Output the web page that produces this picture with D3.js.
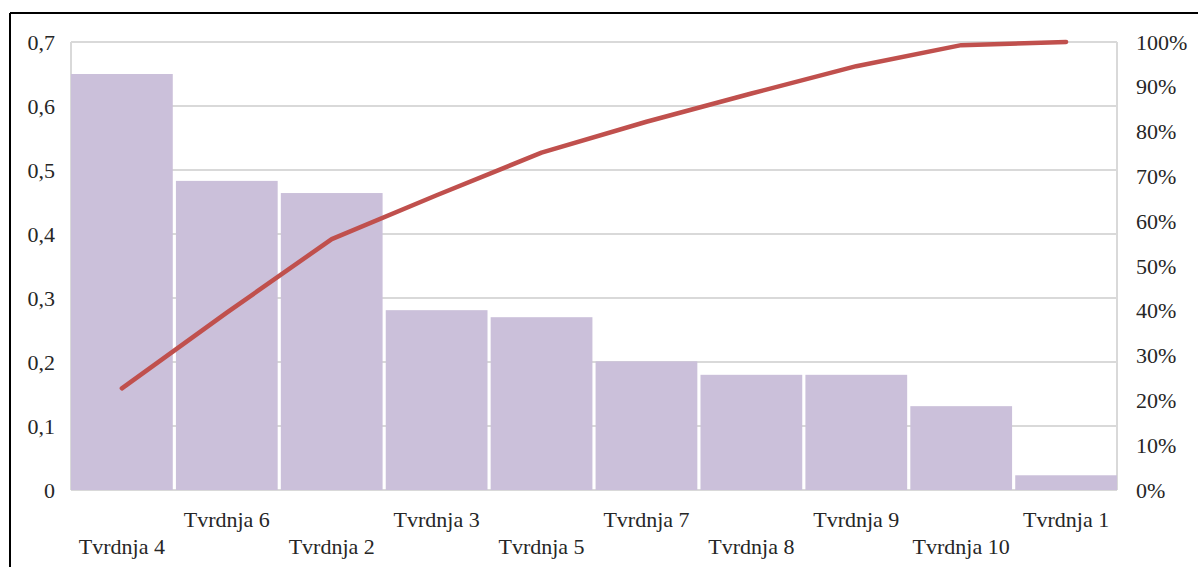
<!DOCTYPE html>
<html>
<head>
<meta charset="utf-8">
<script src="https://cdn.jsdelivr.net/npm/d3@7"></script>
<style>
  html, body { margin: 0; padding: 0; background: #fff; }
  svg { display: block; }
  text { font-family: "Liberation Serif", "Times New Roman", serif; fill: #262626; }
</style>
</head>
<body>
<svg id="chart" width="1198" height="567"></svg>
<script>
const categories = ["Tvrdnja 4", "Tvrdnja 6", "Tvrdnja 2", "Tvrdnja 3", "Tvrdnja 5",
                    "Tvrdnja 7", "Tvrdnja 8", "Tvrdnja 9", "Tvrdnja 10", "Tvrdnja 1"];
const barValues = [0.65, 0.483, 0.464, 0.281, 0.27, 0.201, 0.18, 0.18, 0.131, 0.023];
const cumulativePct = [0.227, 0.396, 0.56, 0.658, 0.753, 0.822, 0.885, 0.946, 0.993, 1.0];
const leftTicks = [0, 0.1, 0.2, 0.3, 0.4, 0.5, 0.6, 0.7];
const rightTicks = [0, 0.1, 0.2, 0.3, 0.4, 0.5, 0.6, 0.7, 0.8, 0.9, 1.0];

const svg = d3.select("#chart");
const W = 1198, H = 567;
const plot = { left: 71, right: 1117, top: 42, bottom: 490 };

svg.append("rect").attr("width", W).attr("height", H).attr("fill", "#fff");

// outer frame (top & left visible)
svg.append("line").attr("x1", 10).attr("x2", W).attr("y1", 13).attr("y2", 13)
  .attr("stroke", "#000").attr("stroke-width", 2);
svg.append("line").attr("x1", 10).attr("x2", 10).attr("y1", 13).attr("y2", H)
  .attr("stroke", "#000").attr("stroke-width", 2);

const x = d3.scaleBand().domain(categories).range([plot.left, plot.right]).paddingInner(0.03).paddingOuter(0);
const xc = d => x(d) + x.bandwidth() / 2;
const yL = d3.scaleLinear().domain([0, 0.7]).range([plot.bottom, plot.top]);
const yR = d3.scaleLinear().domain([0, 1]).range([plot.bottom, plot.top]);

// gridlines
const grid = svg.append("g");
grid.selectAll("line").data(leftTicks).join("line")
  .attr("x1", plot.left).attr("x2", plot.right)
  .attr("y1", d => yL(d)).attr("y2", d => yL(d))
  .attr("stroke", "#d9d9d9").attr("stroke-width", 2);
// plot area sides
svg.append("line").attr("x1", plot.left).attr("x2", plot.left).attr("y1", plot.top).attr("y2", plot.bottom)
  .attr("stroke", "#d9d9d9").attr("stroke-width", 2);
svg.append("line").attr("x1", plot.right).attr("x2", plot.right).attr("y1", plot.top).attr("y2", plot.bottom)
  .attr("stroke", "#d9d9d9").attr("stroke-width", 2);

// bars
svg.append("g").selectAll("rect").data(categories).join("rect")
  .attr("x", d => x(d))
  .attr("width", x.bandwidth())
  .attr("y", (d, i) => yL(barValues[i]))
  .attr("height", (d, i) => plot.bottom - yL(barValues[i]))
  .attr("fill", "#cbc0da");

// cumulative line
const line = d3.line().x((d, i) => xc(categories[i])).y(d => yR(d));
svg.append("path").datum(cumulativePct)
  .attr("d", line)
  .attr("fill", "none").attr("stroke", "#c0504d").attr("stroke-width", 4.5)
  .attr("stroke-linecap", "round").attr("stroke-linejoin", "round");

// left axis
const fmtL = d => d === 0 ? "0" : d3.format(".1f")(d).replace(".", ",");
const axL = d3.axisLeft(yL).tickValues(leftTicks).tickFormat(fmtL).tickSize(0).tickPadding(0);
const gL = svg.append("g").attr("transform", "translate(55,0)").call(axL);
gL.select(".domain").remove();
gL.selectAll("text").style("font-size", "22px").style("font-family", "Liberation Serif").attr("fill", "#262626");

// right axis
const axR = d3.axisRight(yR).tickValues(rightTicks).tickFormat(d3.format(".0%")).tickSize(0).tickPadding(0);
const gR = svg.append("g").attr("transform", "translate(1136,0)").call(axR);
gR.select(".domain").remove();
gR.selectAll("text").style("font-size", "22px").style("font-family", "Liberation Serif").attr("fill", "#262626");

// category labels (staggered)
svg.append("g").selectAll("text").data(categories).join("text")
  .attr("x", d => xc(d))
  .attr("y", (d, i) => i % 2 === 0 ? 554 : 527)
  .attr("text-anchor", "middle")
  .style("font-size", "22px")
  .text(d => d);
</script>
</body>
</html>
